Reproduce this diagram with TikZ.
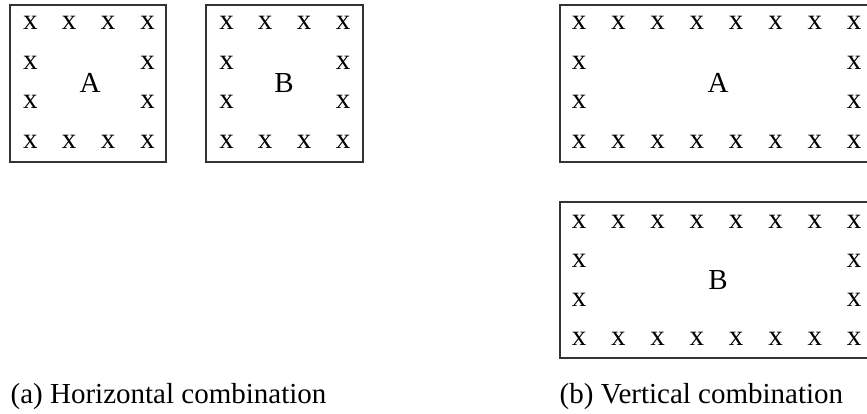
\documentclass[tikz,border=0pt]{standalone}
\usepackage{fontspec}
\setmainfont{Liberation Serif}
\begin{document}
\begin{tikzpicture}[x=1pt,y=1pt,
  font=\fontsize{29}{35}\selectfont,
  frame/.style={draw=black!80, line width=1.1pt, inner sep=0pt, minimum height=157pt},
  mark x/.style={inner sep=0pt},
  caption/.style={anchor=base west, inner sep=0pt}]
\useasboundingbox (0,0) rectangle (867,413);
\clip (0,0) rectangle (867,413);

% (a) two square blocks side by side
\node[frame, minimum width=156pt] (hA) at (88,329.5) {};
\node[frame, minimum width=157pt] (hB) at (284.5,329.5) {};
\node (hAlab) at (90,330) {A};
\node (hBlab) at (284,330) {B};
\foreach \c [count=\i] in {30.5,69,108,147.5} {
  \node[mark x] (hAt\i) at (\c,390) {x};
  \node[mark x] (hAb\i) at (\c,271.5) {x};
}
\foreach \r [count=\j] in {350.5,311} {
  \node[mark x] (hAl\j) at (30.5,\r) {x};
  \node[mark x] (hAr\j) at (147.5,\r) {x};
}
\foreach \c [count=\i] in {226.5,265,304,343} {
  \node[mark x] (hBt\i) at (\c,390) {x};
  \node[mark x] (hBb\i) at (\c,271.5) {x};
}
\foreach \r [count=\j] in {350.5,311} {
  \node[mark x] (hBl\j) at (226.5,\r) {x};
  \node[mark x] (hBr\j) at (343,\r) {x};
}

% (b) two wide blocks stacked
\node[frame, minimum width=313pt] (vA) at (716.5,329.5) {};
\node[frame, minimum width=313pt, minimum height=156pt] (vB) at (716.5,133) {};
\node (vAlab) at (718,330) {A};
\node (vBlab) at (718,133) {B};
\foreach \c [count=\i] in {579,618.3,657.6,696.9,736.2,775.5,814.8,854.1} {
  \node[mark x] (vAt\i) at (\c,390) {x};
  \node[mark x] (vAb\i) at (\c,271.5) {x};
  \node[mark x] (vBt\i) at (\c,191) {x};
  \node[mark x] (vBb\i) at (\c,74) {x};
}
\foreach \r [count=\j] in {350.5,311} {
  \node[mark x] (vAl\j) at (579,\r) {x};
  \node[mark x] (vAr\j) at (854.1,\r) {x};
}
\foreach \r [count=\j] in {152,113} {
  \node[mark x] (vBl\j) at (579,\r) {x};
  \node[mark x] (vBr\j) at (854.1,\r) {x};
}

% sub-captions
\node[caption] (capa) at (10.5,10) {(a) Horizontal combination};
\node[caption] (capb) at (559.5,10) {(b) Vertical combination};
\end{tikzpicture}
\end{document}
